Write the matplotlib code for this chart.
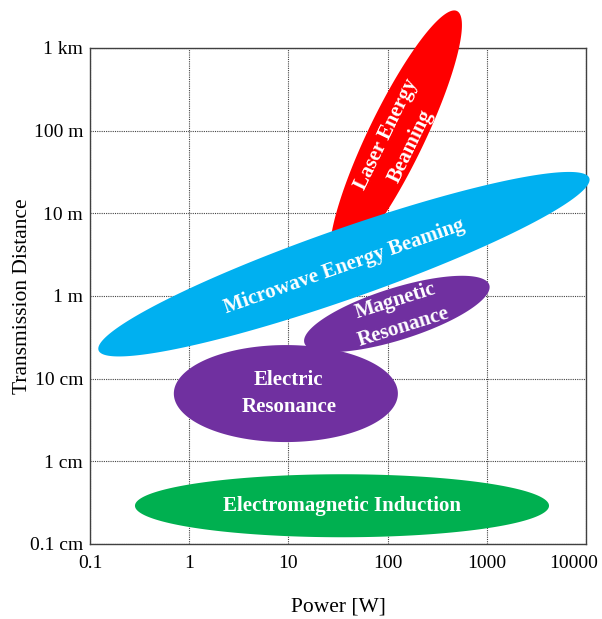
import numpy as np
import matplotlib.pyplot as plt
from matplotlib.transforms import ScaledTranslation

plt.rcParams['font.family'] = ['Liberation Serif', 'DejaVu Serif']

# axis ticks
power_ticks = [0.1, 1, 10, 100, 1000, 10000]
power_labels = ['0.1', '1', '10', '100', '1000', '10000']
distance_ticks = [0.001, 0.01, 0.1, 1, 10, 100, 1000]
distance_labels = ['0.1 cm', '1 cm', '10 cm', '1 m', '10 m', '100 m', '1 km']

# each technology spans from a low end to a high end (power in W, distance in m)
technologies = ['Laser Energy\nBeaming', 'Microwave Energy Beaming',
                'Electric\nResonance', 'Magnetic\nResonance',
                'Electromagnetic Induction']
power_low = [29.5, 0.122, 0.70, 14.5, 0.284]
power_high = [500, 10800, 127, 1060, 4240]
distance_low = [2.5, 0.22, 0.066, 0.27, 0.0029]
distance_high = [2800, 26.7, 0.066, 1.36, 0.0029]

colors = ['#FF0000', '#00B0F0', '#7030A0', '#7030A0', '#00B050']
thickness = [56, 70, 97, 52, 63]          # minor axis in pixels
label_shift = [(2, -2), (0, -2), (2, 0), (2, 0), (0, 0)]

fig = plt.figure(figsize=(6.02, 6.19), dpi=100)
ax = fig.add_axes([0.1495, 0.1212, 0.8239, 0.8013])
ax.set_xscale('log')
ax.set_yscale('log')
ax.set_xlim(0.1, 10000)
ax.set_ylim(0.001, 1000)


def draw_region(p0, p1, thick, color, z):
    ends = ax.transData.transform([p0, p1])
    mid = ends.mean(axis=0)
    d = ends[1] - ends[0]
    half = np.hypot(d[0], d[1]) / 2
    ang = np.arctan2(d[1], d[0])
    t = np.linspace(0, 2 * np.pi, 400)
    u = half * np.cos(t)
    v = thick / 2 * np.sin(t)
    x = mid[0] + u * np.cos(ang) - v * np.sin(ang)
    y = mid[1] + u * np.sin(ang) + v * np.cos(ang)
    pts = ax.transData.inverted().transform(np.column_stack([x, y]))
    ax.fill(pts[:, 0], pts[:, 1], color=color, lw=0, clip_on=False, zorder=z)
    return ax.transData.inverted().transform(mid), np.degrees(ang)


for i, name in enumerate(technologies):
    centre, angle = draw_region((power_low[i], distance_low[i]),
                                (power_high[i], distance_high[i]),
                                thickness[i], colors[i], 3 + i)
    ax.annotate(name, xy=centre, xytext=label_shift[i], textcoords='offset points',
                ha='center', va='center', rotation=angle, rotation_mode='anchor',
                color='white', fontweight='bold', fontsize=15,
                linespacing=1.45, zorder=10, annotation_clip=False)

ax.set_xticks(power_ticks)
ax.set_xticklabels(power_labels)
ax.set_yticks(distance_ticks)
ax.set_yticklabels(distance_labels)
ax.minorticks_off()
ax.tick_params(axis='both', length=0, labelsize=14)
ax.tick_params(axis='x', pad=8)
ax.tick_params(axis='y', pad=5)
# keep the last power label inside the figure
last = ax.get_xticklabels()[-1]
last.set_transform(last.get_transform() + ScaledTranslation(-12 / 100, 0, fig.dpi_scale_trans))

ax.grid(True, color='#444444', linestyle=(0, (1, 1)), linewidth=0.8)
ax.set_axisbelow(True)
for s in ax.spines.values():
    s.set_color('#404040')
    s.set_linewidth(1.0)

ax.set_xlabel('Power [W]', fontsize=15.5, va='center')
ax.set_ylabel('Transmission Distance', fontsize=15.5, va='center')
ax.xaxis.set_label_coords(0.5, -0.128)
ax.yaxis.set_label_coords(-0.137, 0.5)

fig.savefig('out.png', dpi=100)
